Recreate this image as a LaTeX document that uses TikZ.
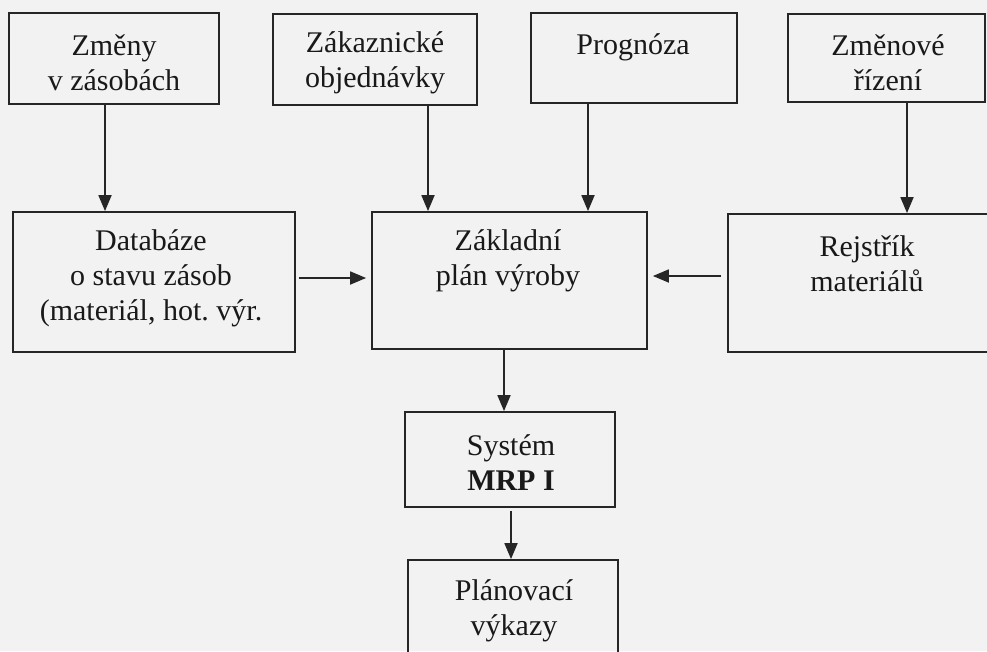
\documentclass[tikz,border=0pt]{standalone}
\usepackage{fontspec}
\setmainfont{Liberation Serif}
\usetikzlibrary{arrows.meta}
\frenchspacing
\tikzset{
  box/.style={draw=black!85, line width=1.8pt, rectangle, inner sep=0pt},
  txt/.style={align=center, inner sep=0pt, font=\fontsize{30}{35}\selectfont, text=black!90},
  arr/.style={draw=black!85, line width=1.8pt, -{Triangle[length=16pt,width=13pt]}},
}
\begin{document}
\begin{tikzpicture}[x=1pt,y=-1pt]
\useasboundingbox (0,0) rectangle (987,651);
\fill[white!95!black] (0,0) rectangle (987,651);
\clip (0,0) rectangle (987,651);
% boxes (top row)
\node[box, minimum width=210, minimum height=91] (A) at (114,58.5) {};
\node[box, minimum width=204, minimum height=91] (B) at (375,59.5) {};
\node[box, minimum width=206, minimum height=90] (C) at (634,58) {};
\node[box, minimum width=197, minimum height=88] (D) at (886.5,58) {};
% middle row
\node[box, minimum width=282, minimum height=140] (E) at (154,282) {};
\node[box, minimum width=275, minimum height=137] (F) at (509.5,280.5) {};
\node[box, minimum width=280, minimum height=138] (G) at (868,283) {};
% lower
\node[box, minimum width=210, minimum height=95] (H) at (510,459.5) {};
\node[box, minimum width=210, minimum height=120] (I) at (513,620) {};
% texts
\node[txt] (tA) at (114,63) {Změny\\v zásobách};
\node[txt] (tB) at (375,63) {Zákaznické\\objednávky};
\node[txt] (tC) at (633,47) {Prognóza};
\node[txt] (tD) at (888,63) {Změnové\\řízení};
\node[txt] (tE) at (151,278) {Databáze\\o stavu zásob\\(materiál, hot.\ výr.};
\node[txt] (tF) at (508,261) {Základní\\plán výroby};
\node[txt] (tG) at (867,264) {Rejstřík\\materiálů};
\node[txt] (tH) at (511,463) {Systém\\\textbf{MRP I}};
\node[txt] (tI) at (514,611) {Plánovací\\výkazy};
% arrow x positions
\coordinate (xA) at (105,0);
\coordinate (xB) at (428,0);
\coordinate (xC) at (588,0);
\coordinate (xD) at (907,0);
\coordinate (xF) at (504,0);
\coordinate (xH) at (511,0);
\coordinate (yE) at (0,278);
\coordinate (yG) at (0,276);
\draw[arr] (A.south -| xA) -- (E.north -| xA);
\draw[arr] (B.south -| xB) -- (F.north -| xB);
\draw[arr] (C.south -| xC) -- (F.north -| xC);
\draw[arr] (D.south -| xD) -- (G.north -| xD);
\draw[arr, shorten <=3pt, shorten >=5pt] (E.east |- yE) -- (F.west |- yE);
\draw[arr, shorten <=6pt, shorten >=5pt] (G.west |- yG) -- (F.east |- yG);
\draw[arr] (F.south -| xF) -- (H.north -| xF);
\draw[arr, shorten <=3pt] (H.south -| xH) -- (I.north -| xH);
\end{tikzpicture}
\end{document}
